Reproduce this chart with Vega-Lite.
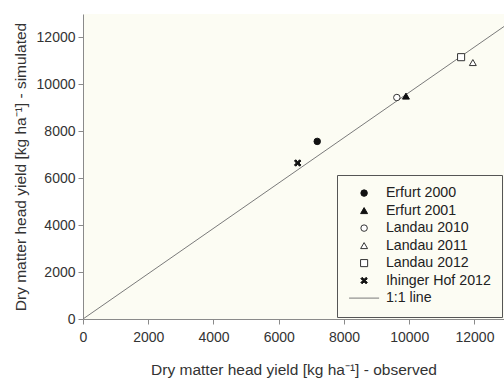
{
  "$schema": "https://vega.github.io/schema/vega-lite/v6.json",
  "width": 421,
  "height": 305,
  "autosize": {"type": "none"},
  "padding": {"left": 83, "top": 14, "right": 0, "bottom": 59},
  "background": "white",
  "config": {
    "font": "Liberation Sans",
    "view": {"fill": "#fcfcf3", "stroke": null},
    "axis": {
      "grid": false,
      "domainColor": "#8a8a8a",
      "tickColor": "#8a8a8a",
      "tickSize": 5,
      "labelFontSize": 14,
      "labelColor": "#333333",
      "labelPadding": 3,
      "labelFlush": false,
      "labelOverlap": false,
      "titleFontSize": 15.5,
      "titleFontWeight": "normal",
      "titleColor": "#333333"
    },
    "legend": {
      "orient": "none",
      "legendX": 254,
      "legendY": 161,
      "padding": 11,
      "strokeColor": "#555555",
      "fillColor": "#fcfcf3",
      "labelFontSize": 14.2,
      "labelColor": "#222222",
      "symbolOffset": 9,
      "labelOffset": 14.7,
      "rowPadding": 2.5,
      "symbolStrokeWidth": 1
    }
  },
  "layer": [
    {
      "data": {"values": [{"observed": 0, "simulated": 0}, {"observed": 13000, "simulated": 12560}]},
      "mark": {"type": "line", "color": "#7a7a7a", "strokeWidth": 1, "clip": true},
      "encoding": {
        "x": {"field": "observed", "type": "quantitative"},
        "y": {"field": "simulated", "type": "quantitative"}
      }
    },
    {
      "data": {
        "values": [
          {"site": "Erfurt 2000", "observed": 7180, "simulated": 7570},
          {"site": "Erfurt 2001", "observed": 9900, "simulated": 9500},
          {"site": "Landau 2010", "observed": 9620, "simulated": 9440},
          {"site": "Landau 2011", "observed": 11950, "simulated": 10930},
          {"site": "Landau 2012", "observed": 11590, "simulated": 11160},
          {"site": "Ihinger Hof 2012", "observed": 6580, "simulated": 6650}
        ]
      },
      "mark": {"type": "point", "filled": true, "strokeWidth": 1, "opacity": 1},
      "encoding": {
        "x": {
          "field": "observed",
          "type": "quantitative",
          "scale": {"domain": [0, 12905], "nice": false, "zero": true},
          "axis": {"values": [0, 2000, 4000, 6000, 8000, 10000, 12000], "format": "d", "labelPadding": 6, "titlePadding": 18},
          "title": "Dry matter head yield [kg ha⁻¹] - observed"
        },
        "y": {
          "field": "simulated",
          "type": "quantitative",
          "scale": {"domain": [0, 13000], "nice": false},
          "axis": {"values": [0, 2000, 4000, 6000, 8000, 10000, 12000], "format": "d", "titlePadding": 8},
          "title": "Dry matter head yield [kg ha⁻¹] - simulated"
        },
        "shape": {
          "field": "site",
          "type": "nominal",
          "title": null,
          "scale": {
            "domain": ["Erfurt 2000", "Erfurt 2001", "Landau 2010", "Landau 2011", "Landau 2012", "Ihinger Hof 2012", "1:1 line"],
            "range": ["circle", "triangle-up", "circle", "triangle-up", "square", "M-1,-0.6L-0.6,-1L0,-0.4L0.6,-1L1,-0.6L0.4,0L1,0.6L0.6,1L0,0.4L-0.6,1L-1,0.6L-0.4,0Z", "M-4.75,0L4.75,0"]
          }
        },
        "fill": {
          "field": "site",
          "type": "nominal",
          "title": null,
          "scale": {
            "domain": ["Erfurt 2000", "Erfurt 2001", "Landau 2010", "Landau 2011", "Landau 2012", "Ihinger Hof 2012", "1:1 line"],
            "range": ["#111111", "#111111", "#ffffff", "#ffffff", "#ffffff", "#111111", "transparent"]
          }
        },
        "stroke": {
          "field": "site",
          "type": "nominal",
          "title": null,
          "scale": {
            "domain": ["Erfurt 2000", "Erfurt 2001", "Landau 2010", "Landau 2011", "Landau 2012", "Ihinger Hof 2012", "1:1 line"],
            "range": ["#111111", "#111111", "#333333", "#333333", "#333333", "#111111", "#7a7a7a"]
          }
        },
        "size": {
          "field": "site",
          "type": "nominal",
          "title": null,
          "scale": {
            "type": "ordinal",
            "domain": ["Erfurt 2000", "Erfurt 2001", "Landau 2010", "Landau 2011", "Landau 2012", "Ihinger Hof 2012", "1:1 line"],
            "range": [42, 48, 42, 48, 50, 42, 40]
          }
        }
      }
    },
    {
      "mark": {"type": "text", "text": "R²=0.98", "align": "left", "baseline": "alphabetic", "fontSize": 14.5, "color": "#333333"},
      "encoding": {
        "x": {"datum": 10890, "type": "quantitative"},
        "y": {"datum": 8780, "type": "quantitative"}
      }
    }
  ]
}
